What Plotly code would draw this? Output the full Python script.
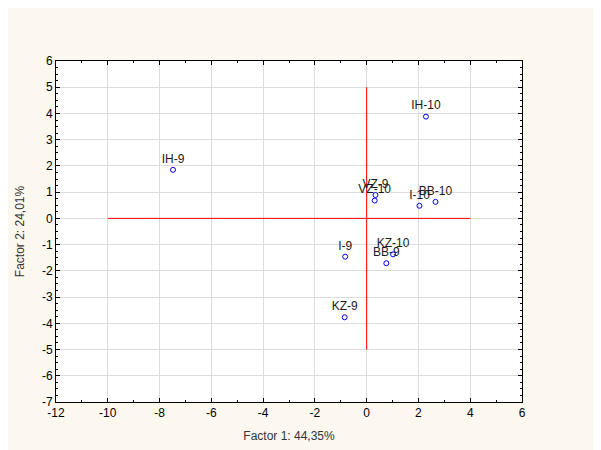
import plotly.graph_objects as go

labels = ["IH-9", "IH-10", "VZ-9", "VZ-10", "I-10", "BB-10", "I-9", "KZ-10", "BB-9", "KZ-9"]
factor1 = [-7.48, 2.29, 0.34, 0.31, 2.04, 2.66, -0.83, 1.02, 0.76, -0.85]
factor2 = [1.85, 3.88, 0.89, 0.68, 0.48, 0.63, -1.46, -1.37, -1.71, -3.77]

x_ticks = [-12, -10, -8, -6, -4, -2, 0, 2, 4, 6]
x_ticklabels = ["-12", "-10", "-8", "-6", "-4", "-2", "0", "2", "4", "6"]
y_ticks = [-7, -6, -5, -4, -3, -2, -1, 0, 1, 2, 3, 4, 5, 6]
y_ticklabels = ["-7", "-6", "-5", "-4", "-3", "-2", "-1", "0", "1", "2", "3", "4", "5", "6"]

hline_x = [-10, 4]
hline_y = [0, 0]
vline_x = [0, 0]
vline_y = [-5, 5]

fig = go.Figure()
fig.add_trace(go.Scatter(x=hline_x, y=hline_y, mode="lines",
                         line=dict(color="#ff0000", width=1), hoverinfo="skip"))
fig.add_trace(go.Scatter(x=vline_x, y=vline_y, mode="lines",
                         line=dict(color="#ff0000", width=1), hoverinfo="skip"))
fig.add_trace(go.Scatter(
    x=factor1, y=factor2, mode="markers+text", text=labels,
    textposition="top center",
    textfont=dict(family="Liberation Sans, Arial, sans-serif", size=12, color="#1a1a1a"),
    marker=dict(symbol="circle-open", size=5, color="#0000ff", line=dict(width=1, color="#0000ff")),
))

axis_common = dict(
    showline=True, linecolor="#000000", linewidth=1, mirror="ticks",
    showgrid=True, gridcolor="#dcdcdc", gridwidth=1,
    zeroline=False, ticks="inside", ticklen=4, tickcolor="#000000",
    tickmode="array",
    tickfont=dict(family="Liberation Sans, Arial, sans-serif", size=12, color="#000000"),
)

fig.update_layout(
    width=601, height=450,
    paper_bgcolor="#fdf8ef", plot_bgcolor="#ffffff",
    showlegend=False,
    margin=dict(l=43, r=87, t=53, b=56),
    font=dict(family="Liberation Sans, Arial, sans-serif", size=12, color="#000000"),
    xaxis=dict(range=[-12, 6], tickvals=x_ticks, ticktext=x_ticklabels,
               minor=dict(ticks="inside", dtick=1, tick0=-12, ticklen=2, tickcolor="#000000", showgrid=False),
               title=dict(text="Factor 1: 44,35%", standoff=12,
                          font=dict(size=12, color="#333333")),
               **axis_common),
    yaxis=dict(range=[-7, 6], tickvals=y_ticks, ticktext=y_ticklabels,
               minor=dict(ticks="inside", dtick=0.25, tick0=-7, ticklen=2, tickcolor="#000000", showgrid=False),
               title=dict(text="Factor 2: 24,01%", standoff=14,
                          font=dict(size=12, color="#333333")),
               **axis_common),
)

fig.write_html("out.html")
